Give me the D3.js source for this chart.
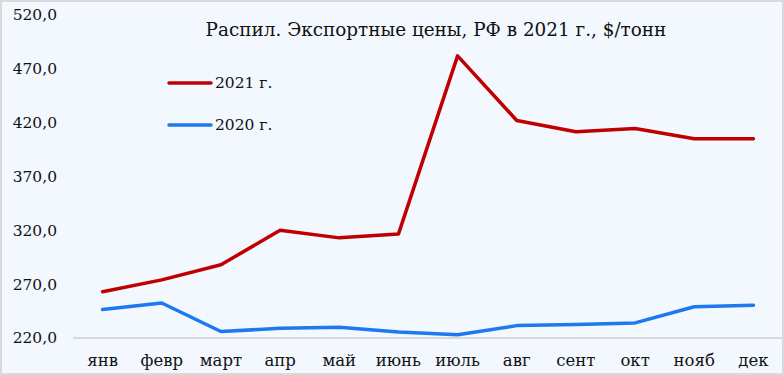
<!DOCTYPE html>
<html>
<head>
<meta charset="utf-8">
<script src="https://cdn.jsdelivr.net/npm/d3@7"></script>
<style>
  body { margin: 0; background: #fff; }
</style>
</head>
<body>
<div id="chart"></div>
<script>
// data
let months = ["янв", "февр", "март", "апр", "май", "июнь", "июль", "авг", "сент", "окт", "нояб", "дек"];
let values2021 = [263, 274, 288, 320, 313, 316.5, 482, 422, 411.5, 414.5, 405, 405];
let values2020 = [246.5, 252.5, 226, 229, 230, 225.5, 223, 231.5, 232.5, 234, 249, 250.5];
let yTicks = [220, 270, 320, 370, 420, 470, 520];

let W = 784, H = 375;
let margin = { top: 15, left: 73, right: 1, bottom: 37 };
let serif = "'DejaVu Serif', 'Liberation Serif', serif";

let svg = d3.select("#chart")
  .append("svg")
  .attr("width", W)
  .attr("height", H)
  .style("display", "block")
  .attr("font-family", serif);

svg.append("rect")
  .attr("x", 1).attr("y", 1)
  .attr("width", W - 2).attr("height", H - 2)
  .attr("fill", "#F2F8FE")
  .attr("stroke", "#D9D9D9")
  .attr("stroke-width", 2);

let x = d3.scaleBand().domain(months).range([margin.left, W - margin.right]);
let y = d3.scaleLinear().domain([220, 520]).range([H - margin.bottom, margin.top]);

// baseline
svg.append("line")
  .attr("x1", margin.left).attr("x2", W - 2)
  .attr("y1", y(220)).attr("y2", y(220))
  .attr("stroke", "#D9D9D9").attr("stroke-width", 2);

// y labels
svg.append("g")
  .selectAll("text")
  .data(yTicks)
  .join("text")
  .attr("x", 57)
  .attr("y", d => y(d))
  .attr("dy", "0.35em")
  .attr("text-anchor", "end")
  .attr("font-size", 15.5)
  .attr("fill", "#111")
  .text(d => d3.format(".1f")(d).replace(".", ","));

// x labels
svg.append("g")
  .selectAll("text")
  .data(months)
  .join("text")
  .attr("x", d => x(d) + x.bandwidth() / 2)
  .attr("y", 360)
  .attr("dy", "0.35em")
  .attr("text-anchor", "middle")
  .attr("font-size", 16.5)
  .attr("fill", "#111")
  .text(d => d);

let line = d3.line()
  .x((d, i) => x(months[i]) + x.bandwidth() / 2)
  .y(d => y(d));

svg.append("path")
  .datum(values2020)
  .attr("d", line)
  .attr("fill", "none")
  .attr("stroke", "#1E78F0")
  .attr("stroke-width", 3.5)
  .attr("stroke-linejoin", "round")
  .attr("stroke-linecap", "round");

svg.append("path")
  .datum(values2021)
  .attr("d", line)
  .attr("fill", "none")
  .attr("stroke", "#C00000")
  .attr("stroke-width", 3.5)
  .attr("stroke-linejoin", "round")
  .attr("stroke-linecap", "round");

// title
svg.append("text")
  .attr("x", 436)
  .attr("y", 30)
  .attr("dy", "0.35em")
  .attr("text-anchor", "middle")
  .attr("font-size", 18.4)
  .attr("fill", "#111")
  .text("Распил. Экспортные цены, РФ в 2021 г., $/тонн");

// legend
let legend = [
  { name: "2021 г.", color: "#C00000", y: 83 },
  { name: "2020 г.", color: "#1E78F0", y: 125 }
];
let lg = svg.append("g")
  .selectAll("g")
  .data(legend)
  .join("g");
lg.append("line")
  .attr("x1", 169).attr("x2", 211)
  .attr("y1", d => d.y).attr("y2", d => d.y)
  .attr("stroke", d => d.color)
  .attr("stroke-width", 3.5)
  .attr("stroke-linecap", "round");
lg.append("text")
  .attr("x", 215)
  .attr("y", d => d.y)
  .attr("dy", "0.35em")
  .attr("font-size", 15.5)
  .attr("fill", "#111")
  .text(d => d.name);
</script>
</body>
</html>
